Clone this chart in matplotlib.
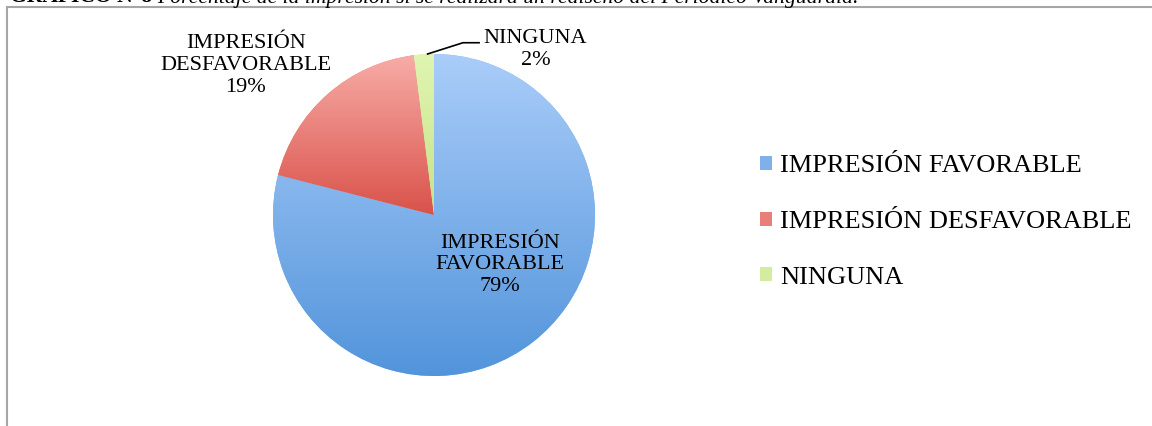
import matplotlib
matplotlib.use('Agg')
import matplotlib.pyplot as plt
import numpy as np
from matplotlib.colors import LinearSegmentedColormap
from matplotlib.patches import Patch
from matplotlib.lines import Line2D

plt.rcParams['font.family'] = ['Liberation Serif', 'DejaVu Serif']

categories = ['IMPRESIÓN FAVORABLE', 'IMPRESIÓN DESFAVORABLE', 'NINGUNA']
values = [79, 19, 2]
label_text = ['IMPRESIÓN\nFAVORABLE', 'IMPRESIÓN\nDESFAVORABLE', 'NINGUNA']
light = ['#aacdf9', '#f8aca7', '#e0f5b0']
dark = ['#5294db', '#d9524a', '#c6e38a']
mid = ['#7fb0ea', '#e87f78', '#d3eca0']

W, H = 1152, 426
fig = plt.figure(figsize=(W / 100, H / 100), dpi=100)

# caption cut off at the top of the page
base = 1 - 2.5 / H
t1 = fig.text(10 / W, base, 'GRÁFICO N°8 ', fontsize=15.6, fontweight='bold', va='baseline')
fig.canvas.draw()
bb = t1.get_window_extent()
fig.text(bb.x1 / W, base, 'Porcentaje de la impresión si se realizara un rediseño del Periódico Vanguardia.',
         fontsize=15.6, style='italic', va='baseline')

# chart frame
fig.add_artist(Line2D([7 / W, 1], [1 - 7 / H, 1 - 7 / H], color='#a6a6a6', lw=1.5, transform=fig.transFigure))
fig.add_artist(Line2D([7 / W, 7 / W], [0, 1 - 7 / H], color='#a6a6a6', lw=1.5, transform=fig.transFigure))

cx, cy, r = 434, 215, 161
ax = fig.add_axes([(cx - r) / W, (H - cy - r) / H, 2 * r / W, 2 * r / H])
wedges, _ = ax.pie(values, colors=mid, startangle=90, counterclock=False, radius=1,
                   wedgeprops=dict(linewidth=0))
ax.set_aspect('equal')
ax.axis('off')

# vertical gradient inside each wedge
for w, lo, hi in zip(wedges, light, dark):
    cmap = LinearSegmentedColormap.from_list('g', [lo, hi])
    ext = w.get_path().get_extents()
    grad = np.linspace(0, 1, 256).reshape(-1, 1)
    im = ax.imshow(grad, cmap=cmap, aspect='auto', origin='upper',
                   extent=[ext.x0, ext.x1, ext.y0, ext.y1], zorder=2)
    im.set_clip_path(w)
ax.set_xlim(-1, 1)
ax.set_ylim(-1, 1)

# data labels
ax.text(0.41, -0.31, f'{label_text[0]}\n{values[0]}%', ha='center', va='center', fontsize=16,
        linespacing=1.2, zorder=5)
ax.text(-1.17, 0.93, f'{label_text[1]}\n{values[1]}%', ha='center', va='center', fontsize=16,
        linespacing=1.2, zorder=5, clip_on=False)
ax.text(0.63, 1.03, f'{label_text[2]}\n{values[2]}%', ha='center', va='center', fontsize=16,
        linespacing=1.2, zorder=5, clip_on=False)
ax.plot([0.28, 0.18, -0.04], [1.07, 1.07, 1.0], color='black', lw=1.2, clip_on=False, zorder=5)

handles = [Patch(facecolor=c, edgecolor='none') for c in mid]
fig.legend(handles, categories, loc='center left', bbox_to_anchor=(760 / W, 1 - 222 / H),
           frameon=False, fontsize=19, handlelength=0.45, handleheight=0.45, handletextpad=0.32,
           labelspacing=1.27, borderpad=0, borderaxespad=0)

fig.savefig('out.png', dpi=100)
